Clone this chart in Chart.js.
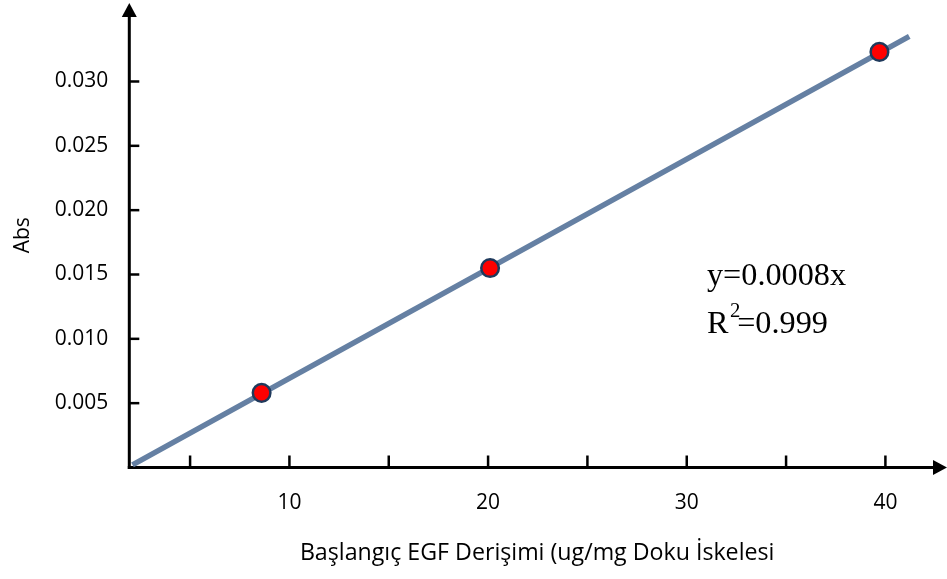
<!DOCTYPE html>
<html>
<head>
<meta charset="utf-8">
<script src="https://cdn.jsdelivr.net/npm/chart.js@4.4.1/dist/chart.umd.min.js"></script>
<style>
  html, body { margin: 0; padding: 0; background: #fff; }
</style>
</head>
<body>
<canvas id="grafik" width="947" height="579"></canvas>
<script>
// Ölçüm noktaları (okunan değerler)
const olcumX = [8.6, 20.1, 39.7];
const olcumY = [0.0058, 0.0155, 0.0323];

// Doğrunun uç noktaları
const dogruX = [2.1, 41.2];
const dogruY = [0.0002, 0.0335];

// Eksen tikleri
const xTikleri = [5, 10, 15, 20, 25, 30, 35, 40];
const xEtiketleri = [10, 20, 30, 40];
const yTikleri = [0.005, 0.010, 0.015, 0.020, 0.025, 0.030];

// Denklem metni
const denklemSatiri = 'y=0.0008x';
const r2Parcalari = ['R', '2', '=0.999'];

const eksenCizici = {
  id: 'eksenCizici',
  beforeDatasetsDraw(chart) {
    const { ctx, chartArea: a, scales: { x, y } } = chart;
    ctx.save();
    ctx.strokeStyle = '#000';
    ctx.fillStyle = '#000';
    ctx.lineWidth = 3;

    // y ekseni + ok
    ctx.beginPath();
    ctx.moveTo(a.left, a.bottom + 1.5);
    ctx.lineTo(a.left, a.top + 12);
    ctx.stroke();
    ctx.beginPath();
    ctx.moveTo(a.left, a.top);
    ctx.lineTo(a.left - 7.5, a.top + 14);
    ctx.lineTo(a.left + 7.5, a.top + 14);
    ctx.closePath();
    ctx.fill();

    // x ekseni + ok
    ctx.beginPath();
    ctx.moveTo(a.left - 1.5, a.bottom);
    ctx.lineTo(a.right - 12, a.bottom);
    ctx.stroke();
    ctx.beginPath();
    ctx.moveTo(a.right + 2, a.bottom);
    ctx.lineTo(a.right - 12, a.bottom - 7.5);
    ctx.lineTo(a.right - 12, a.bottom + 7.5);
    ctx.closePath();
    ctx.fill();

    // içe dönük tik çizgileri
    ctx.lineWidth = 2.5;
    xTikleri.forEach(v => {
      const px = x.getPixelForValue(v);
      ctx.beginPath();
      ctx.moveTo(px, a.bottom);
      ctx.lineTo(px, a.bottom - 12);
      ctx.stroke();
    });
    yTikleri.forEach(v => {
      const py = y.getPixelForValue(v);
      ctx.beginPath();
      ctx.moveTo(a.left, py);
      ctx.lineTo(a.left + 10, py);
      ctx.stroke();
    });
    ctx.restore();
  },
  afterDraw(chart) {
    const { ctx } = chart;
    ctx.save();
    ctx.fillStyle = '#000';
    ctx.textBaseline = 'alphabetic';
    ctx.textAlign = 'left';
    ctx.font = "31px 'Liberation Serif'";
    ctx.save();
    ctx.translate(707, 285);
    ctx.scale(1.04, 1);
    ctx.fillText(denklemSatiri, 0, 0);
    ctx.restore();

    ctx.save();
    ctx.translate(707, 333);
    ctx.scale(1.04, 1);
    ctx.fillText(r2Parcalari[0], 0, 0);
    ctx.font = "20px 'Liberation Serif'";
    ctx.fillText(r2Parcalari[1], 22, -16);
    ctx.font = "31px 'Liberation Serif'";
    ctx.fillText(r2Parcalari[2], 29, 0);
    ctx.restore();
    ctx.restore();
  }
};

const olcumNoktalari = olcumX.map((v, i) => ({ x: v, y: olcumY[i] }));
const dogruNoktalari = dogruX.map((v, i) => ({ x: v, y: dogruY[i] }));

new Chart(document.getElementById('grafik'), {
  type: 'scatter',
  data: {
    datasets: [
      {
        label: 'Ölçüm',
        data: olcumNoktalari,
        backgroundColor: '#ff0000',
        borderColor: '#1f3a5c',
        borderWidth: 2.5,
        pointRadius: 8.8,
        pointHoverRadius: 8.8,
        order: 0,
        clip: false
      },
      {
        label: 'Doğru',
        data: dogruNoktalari,
        showLine: true,
        borderColor: '#6580a3',
        borderWidth: 5.5,
        pointRadius: 0,
        fill: false,
        order: 1,
        clip: false
      }
    ]
  },
  options: {
    responsive: false,
    animation: false,
    events: [],
    layout: { autoPadding: false, padding: { top: 3, right: 2, left: 0, bottom: 0 } },
    plugins: {
      legend: { display: false },
      tooltip: { enabled: false }
    },
    scales: {
      x: {
        type: 'linear',
        min: 1.94,
        max: 43,
        border: { display: false },
        grid: { drawOnChartArea: false, drawTicks: false },
        afterBuildTicks: s => { s.ticks = xTikleri.map(v => ({ value: v })); },
        afterFit: s => {
          s.height = 111.5;
          s.paddingLeft = 0;
          s.paddingRight = 0;
        },
        ticks: {
          padding: 23,
          color: '#000',
          font: { family: "'Open Sans'", size: 21 },
          autoSkip: false,
          maxRotation: 0,
          callback: v => (xEtiketleri.includes(v) ? String(v) : '')
        },
        title: {
          display: true,
          text: 'Başlangıç EGF Derişimi (ug/mg Doku İskelesi',
          color: '#000',
          font: { family: "'Open Sans'", size: 23.2 },
          padding: { top: 0, bottom: 12 }
        }
      },
      y: {
        type: 'linear',
        min: 0,
        max: 0.0361,
        border: { display: false },
        grid: { drawOnChartArea: false, drawTicks: false },
        afterBuildTicks: s => { s.ticks = yTikleri.map(v => ({ value: v })); },
        afterFit: s => {
          s.width = 129.3;
          s.paddingTop = 0;
          s.paddingBottom = 0;
        },
        ticks: {
          padding: 21,
          color: '#000',
          font: { family: "'Open Sans'", size: 21 },
          autoSkip: false,
          callback: v => v.toFixed(3)
        },
        title: {
          display: true,
          text: 'Abs',
          color: '#000',
          font: { family: "'Open Sans'", size: 21 },
          padding: { top: 10, bottom: 0 }
        }
      }
    }
  },
  plugins: [eksenCizici]
});
</script>
</body>
</html>
